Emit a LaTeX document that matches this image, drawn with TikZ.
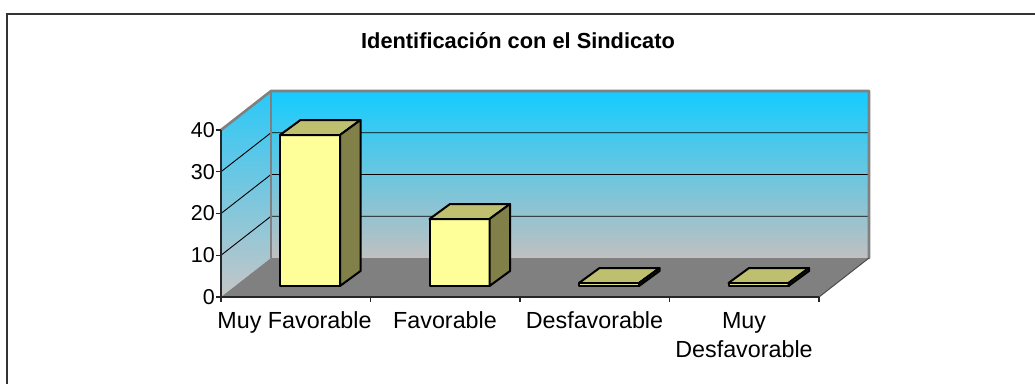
\documentclass[tikz,border=0pt]{standalone}
\usepackage{fontspec}
\setmainfont{Liberation Sans}
\begin{document}
\begin{tikzpicture}[x=1pt,y=-1pt,
  framecol/.style={draw=black!80,line width=2pt},
  wallborder/.style={draw=black!50,line width=2.6pt},
  gridl/.style={draw=black,line width=0.9pt},
  axisl/.style={draw=black!85,line width=1.2pt},
  barfront/.style={fill=barF,draw=black,line width=2pt,line join=round},
  bartop/.style={fill=barT,draw=black,line width=2pt,line join=round},
  barside/.style={fill=barS,draw=black,line width=2pt,line join=round},
  catlabel/.style={inner sep=0pt,anchor=base,font=\fontsize{23.3}{28.7}\selectfont},
  ticklabel/.style={inner sep=0pt,anchor=east,font=\fontsize{21.5}{28.7}\selectfont},
  titlestyle/.style={inner sep=0pt,anchor=base,font=\fontsize{21.8}{26}\selectfont\bfseries}]
\definecolor{wallTop}{HTML}{14CCFF}
\definecolor{wallBot}{HTML}{C0C0C0}
\definecolor{sideTop}{HTML}{2AC8F8}
\definecolor{sideBot}{HTML}{C6C6C6}
\definecolor{floorC}{HTML}{808080}
\definecolor{barF}{HTML}{FFFF99}
\definecolor{barT}{HTML}{BFBF70}
\definecolor{barS}{HTML}{808048}
\useasboundingbox (0,0) rectangle (1035,383);
\clip (0,0) rectangle (1035,383);
% outer frame
\draw[framecol] (7,400) -- (7,14) -- (1050,14);
% title
\node[titlestyle] (title) at (518,48.3) {Identificación con el Sindicato};
% back wall
\shade[top color=wallTop,bottom color=wallBot] (271,91) rectangle (869,258);
% left wall
\shade[top color=sideTop,bottom color=sideBot] (221,297) -- (221,130) -- (271,91) -- (271,258) -- cycle;
% floor
\fill[floorC] (221,297) -- (819,297) -- (869,258) -- (271,258) -- cycle;
% gridlines
\foreach \v in {10,20,30} {
  \pgfmathsetmacro\yy{297-\v*4.175}
  \draw[gridl] (221,\yy) -- (271,\yy-39) -- (869,\yy-39);
}
% wall borders
\draw[wallborder,line cap=round,line join=round] (221,130) -- (271,91) -- (869,91) -- (869,258);
\draw[wallborder] (271,91) -- (271,258);
% floor right edge
\draw[draw=black!70,line width=1pt] (819,297) -- (869,258);
% axes
\draw[axisl] (221,130) -- (221,297) -- (819,297);
\foreach \v in {0,10,20,30,40} {
  \pgfmathsetmacro\yy{297-\v*4.175}
  \draw[axisl] (216,\yy) -- (221,\yy);
  \node[ticklabel] (t\v) at (215,\yy) {\v};
}
\foreach \i in {0,...,4} {
  \draw[axisl] (221+\i*149.5,297) -- (221+\i*149.5,302);
}
% bars
\newcommand\drawcol[3]{%
  \fill[barfront] (#1,#2) rectangle (#1+60,#3);
  \fill[bartop] (#1,#2) -- (#1+20.5,#2-15) -- (#1+80.5,#2-15) -- (#1+60,#2) -- cycle;
  \fill[barside] (#1+60,#2) -- (#1+80.5,#2-15) -- (#1+80.5,#3-15) -- (#1+60,#3) -- cycle;
}
\drawcol{280}{135}{286}
\drawcol{429.5}{219}{286}
\drawcol{579}{283}{286}
\drawcol{728.5}{283}{286}
% category labels
\node[catlabel] (c1) at (294.5,328.3) {Muy Favorable};
\node[catlabel] (c2) at (445,328.3) {Favorable};
\node[catlabel] (c3) at (594.5,328.3) {Desfavorable};
\node[catlabel] (c4) at (744,328.3) {\begin{tabular}[t]{@{}c@{}}Muy\\Desfavorable\end{tabular}};
\end{tikzpicture}
\end{document}
